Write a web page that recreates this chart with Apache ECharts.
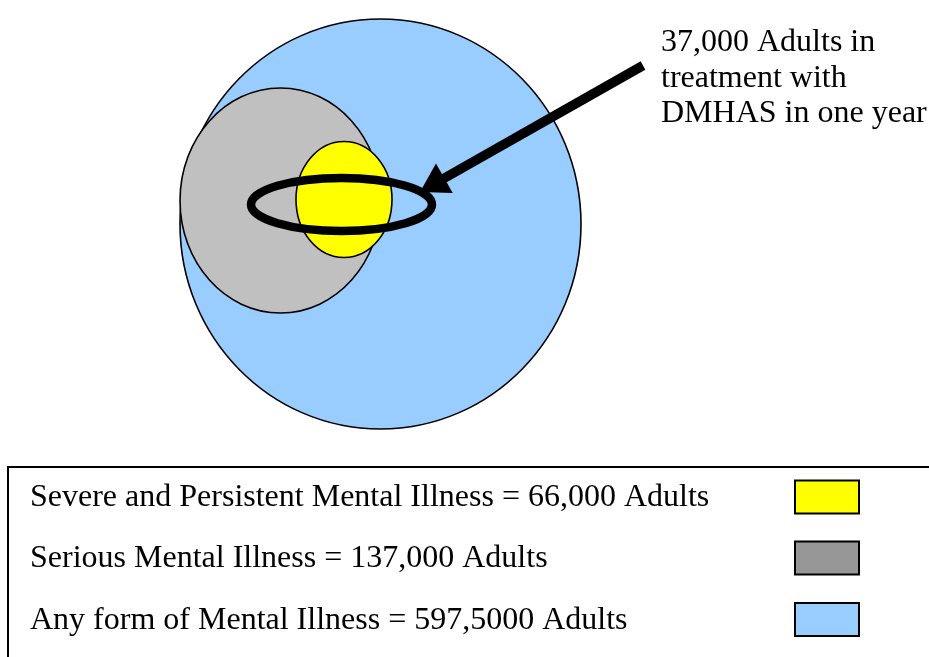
<!DOCTYPE html>
<html>
<head>
<meta charset="utf-8">
<script src="https://cdn.jsdelivr.net/npm/echarts@6/dist/echarts.min.js"></script>
<style>
html,body{margin:0;padding:0;background:#fff;}
#main{width:929px;height:657px;}
</style>
</head>
<body>
<div id="main"></div>
<script>
// ---- data ----
const categories = ['Severe and Persistent Mental Illness', 'Serious Mental Illness', 'Any form of Mental Illness'];
const adultCounts = [66000, 137000, 597500];
const adultLabels = ['66,000', '137,000', '597,5000']; // as printed in the source
const treatmentCount = 37000;
const treatmentLines = ['37,000 Adults in', 'treatment with', 'DMHAS in one year'];

// ---- colours ----
const fillColors = ['#FFFF00', '#C0C0C0', '#99CCFF'];
const swatchColors = ['#FFFF00', '#969696', '#99CCFF'];

// ---- layout (diagram coordinates, axis units = pixels) ----
const ellipseLayout = [ // [cx, cy, rx, ry] for categories order
  [344, 199.5, 48, 58],
  [280.5, 200.5, 100.5, 112.5],
  [380.5, 224, 200.5, 205]
];
const ringLayout = [341.5, 204.5, 90.5, 26.5];
const arrowLayout = [[643, 65.5], [420, 192]];
const annotationPos = [661, 25];
const legendRowY = [498, 559, 620.5];
const legendTextX = 30;
const swatchLayout = [795, 64, 33];
const legendBox = [8, 467, 960, 220];

const serif = '"Liberation Serif","Times New Roman",serif';

// draw order: largest first
const ellipseData = [2, 1, 0].map(i => ({ value: ellipseLayout[i].concat([i]) }));

const chart = echarts.init(document.getElementById('main'), null, { renderer: 'canvas' });

chart.setOption({
  animation: false,
  grid: { left: 0, right: 0, top: 0, bottom: 0 },
  xAxis: { type: 'value', min: 0, max: 929, show: false },
  yAxis: { type: 'value', min: 0, max: 657, inverse: true, show: false },
  series: [
    {
      type: 'custom',
      name: 'populations',
      coordinateSystem: 'cartesian2d',
      data: ellipseData,
      z: 1,
      renderItem: function (params, api) {
        const c = api.coord([api.value(0), api.value(1)]);
        const s = api.size([api.value(2), api.value(3)]);
        const i = api.value(4);
        return {
          type: 'ellipse',
          shape: { cx: c[0], cy: c[1], rx: s[0], ry: s[1] },
          style: { fill: fillColors[i], stroke: '#000', lineWidth: 1.6 }
        };
      }
    },
    {
      type: 'custom',
      name: 'treatment',
      coordinateSystem: 'cartesian2d',
      data: [{ value: ringLayout.concat([treatmentCount]) }],
      z: 2,
      renderItem: function (params, api) {
        const c = api.coord([api.value(0), api.value(1)]);
        const s = api.size([api.value(2), api.value(3)]);
        return {
          type: 'ellipse',
          shape: { cx: c[0], cy: c[1], rx: s[0], ry: s[1] },
          style: { fill: 'none', stroke: '#000', lineWidth: 8.5 }
        };
      }
    },
    {
      type: 'custom',
      name: 'arrow',
      coordinateSystem: 'cartesian2d',
      data: [{ value: [arrowLayout[0][0], arrowLayout[0][1], arrowLayout[1][0], arrowLayout[1][1]] }],
      z: 3,
      renderItem: function (params, api) {
        const p0 = api.coord([api.value(0), api.value(1)]);
        const p1 = api.coord([api.value(2), api.value(3)]);
        const dx = p1[0] - p0[0], dy = p1[1] - p0[1];
        const len = Math.sqrt(dx * dx + dy * dy);
        const ux = dx / len, uy = dy / len;
        const headLen = 28, headHalf = 17;
        const bx = p1[0] - ux * headLen, by = p1[1] - uy * headLen;
        return {
          type: 'group',
          children: [
            {
              type: 'line',
              shape: { x1: p0[0], y1: p0[1], x2: bx + ux * 2, y2: by + uy * 2 },
              style: { stroke: '#000', lineWidth: 9.5, lineCap: 'butt' }
            },
            {
              type: 'polygon',
              shape: { points: [[p1[0], p1[1]], [bx - uy * headHalf, by + ux * headHalf], [bx + uy * headHalf, by - ux * headHalf]] },
              style: { fill: '#000' }
            }
          ]
        };
      }
    },
    {
      type: 'custom',
      name: 'annotation',
      coordinateSystem: 'cartesian2d',
      data: [{ value: annotationPos }],
      z: 4,
      renderItem: function (params, api) {
        const c = api.coord([api.value(0), api.value(1)]);
        return {
          type: 'text',
          style: {
            text: treatmentLines.join('\n'),
            x: c[0], y: c[1],
            fill: '#000',
            fontSize: 32, fontFamily: serif,
            lineHeight: 35.5,
            align: 'left', verticalAlign: 'top'
          }
        };
      }
    },
    {
      type: 'custom',
      name: 'legendBox',
      coordinateSystem: 'cartesian2d',
      data: [{ value: legendBox }],
      z: 5,
      renderItem: function (params, api) {
        const c = api.coord([api.value(0), api.value(1)]);
        const s = api.size([api.value(2), api.value(3)]);
        return {
          type: 'rect',
          shape: { x: c[0], y: c[1], width: s[0], height: s[1] },
          style: { fill: '#fff', stroke: '#000', lineWidth: 2 }
        };
      }
    },
    {
      type: 'custom',
      name: 'legendRows',
      coordinateSystem: 'cartesian2d',
      data: categories.map((cat, i) => ({ value: [legendTextX, legendRowY[i], i, adultCounts[i]] })),
      z: 6,
      renderItem: function (params, api) {
        const i = api.value(2);
        const t = api.coord([api.value(0), api.value(1)]);
        const sw = api.coord([swatchLayout[0], legendRowY[i] - swatchLayout[2] / 2 - 1]);
        const ss = api.size([swatchLayout[1], swatchLayout[2]]);
        return {
          type: 'group',
          children: [
            {
              type: 'text',
              style: {
                text: categories[i] + ' = ' + adultLabels[i] + ' Adults',
                x: t[0], y: t[1],
                fill: '#000',
                fontSize: 32, fontFamily: serif,
                align: 'left', verticalAlign: 'middle'
              }
            },
            {
              type: 'rect',
              shape: { x: sw[0], y: sw[1], width: ss[0], height: ss[1] },
              style: { fill: swatchColors[i], stroke: '#000', lineWidth: 2 }
            }
          ]
        };
      }
    }
  ]
});
</script>
</body>
</html>
